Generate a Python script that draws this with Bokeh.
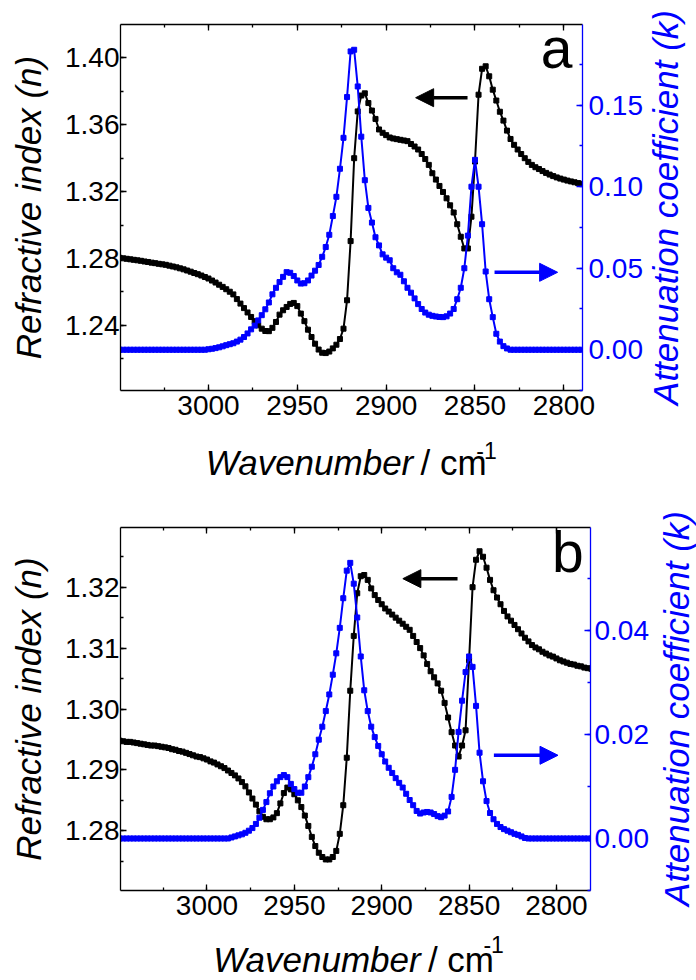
import math
from bokeh.plotting import figure
from bokeh.models import (Range1d, LinearAxis, SingleIntervalTicker, NumeralTickFormatter,
                          CustomJSTickFormatter, Arrow, NormalHead, Label)
from bokeh.layouts import column, row
from bokeh.embed import file_html
from bokeh.resources import INLINE

# ---------------- data ----------------
wavenumber = [
    3050, 3048, 3046, 3044, 3042, 3040, 3038, 3036, 3034, 3032, 3030, 3028, 3026, 3024, 3022, 3020,
    3018, 3016, 3014, 3012, 3010, 3008, 3006, 3004, 3002, 3000, 2998, 2996, 2994, 2992, 2990, 2988,
    2986, 2984, 2982, 2980, 2978, 2976, 2974, 2972, 2970, 2968, 2966, 2964, 2962, 2960, 2958, 2956,
    2954, 2952, 2950, 2948, 2946, 2944, 2942, 2940, 2938, 2936, 2934, 2932, 2930, 2928, 2926, 2924,
    2922, 2920, 2918, 2916, 2914, 2912, 2910, 2908, 2906, 2904, 2902, 2900, 2898, 2896, 2894, 2892,
    2890, 2888, 2886, 2884, 2882, 2880, 2878, 2876, 2874, 2872, 2870, 2868, 2866, 2864, 2862, 2860,
    2858, 2856, 2854, 2852, 2850, 2848, 2846, 2844, 2842, 2840, 2838, 2836, 2834, 2832, 2830, 2828,
    2826, 2824, 2822, 2820, 2818, 2816, 2814, 2812, 2810, 2808, 2806, 2804, 2802, 2800, 2798, 2796,
    2794, 2792, 2790, 2788, 2786, 2784, 2782, 2780]

# panel a: refractive index n
n_a = [
    1.2804, 1.2801, 1.2798, 1.2795, 1.2792, 1.2789, 1.2786, 1.2782, 1.2779, 1.2775, 1.2772, 1.2768,
    1.2765, 1.2762, 1.2757, 1.2752, 1.2747, 1.2741, 1.2735, 1.2728, 1.2721, 1.2713, 1.2706, 1.2698,
    1.2689, 1.2680, 1.2668, 1.2656, 1.2643, 1.2630, 1.2616, 1.2601, 1.2585, 1.2557, 1.2530, 1.2503,
    1.2477, 1.2450, 1.2425, 1.2400, 1.2380, 1.2366, 1.2365, 1.2385, 1.2420, 1.2464, 1.2490, 1.2510,
    1.2528, 1.2534, 1.2515, 1.2470, 1.2425, 1.2374, 1.2330, 1.2290, 1.2255, 1.2236, 1.2234, 1.2243,
    1.2262, 1.2284, 1.2318, 1.2380, 1.2550, 1.2904, 1.3400, 1.3680, 1.3775, 1.3788, 1.3730, 1.3685,
    1.3635, 1.3572, 1.3552, 1.3538, 1.3524, 1.3518, 1.3514, 1.3510, 1.3506, 1.3502, 1.3485, 1.3470,
    1.3452, 1.3425, 1.3395, 1.3360, 1.3310, 1.3272, 1.3234, 1.3198, 1.3160, 1.3118, 1.3075, 1.3005,
    1.2930, 1.2860, 1.2860, 1.3050, 1.3380, 1.3780, 1.3935, 1.3950, 1.3890, 1.3810, 1.3745, 1.3678,
    1.3625, 1.3565, 1.3515, 1.3480, 1.3452, 1.3425, 1.3400, 1.3378, 1.3360, 1.3346, 1.3335, 1.3323,
    1.3312, 1.3302, 1.3293, 1.3285, 1.3278, 1.3272, 1.3266, 1.3261, 1.3256, 1.3251, 1.3247, 1.3243,
    1.3239, 1.3235, 1.3231, 1.3228]

# panel a: attenuation coefficient k
k_a = [
    0.0, 0.0, 0.0, 0.0, 0.0, 0.0, 0.0, 0.0, 0.0, 0.0, 0.0, 0.0, 0.0, 0.0, 0.0, 0.0,
    0.0, 0.0, 0.0, 0.0, 0.0, 0.0, 0.0, 0.0, 0.0, 0.0003, 0.0006, 0.0010, 0.0015, 0.0021, 0.0028, 0.0034,
    0.0040, 0.0050, 0.0062, 0.0078, 0.0100, 0.0125, 0.0148, 0.0180, 0.0212, 0.0248, 0.0290, 0.0340,
    0.0380, 0.0415, 0.0447, 0.0476, 0.0472, 0.0452, 0.0425, 0.0406, 0.0408, 0.0425, 0.0455, 0.0485,
    0.0520, 0.0570, 0.0630, 0.0705, 0.0820, 0.0938, 0.1110, 0.1300, 0.1550, 0.1830, 0.1840, 0.1615,
    0.1307, 0.1040, 0.0870, 0.0780, 0.0690, 0.0640, 0.0585, 0.0565, 0.0549, 0.0500, 0.0475, 0.0460,
    0.0420, 0.0380, 0.0350, 0.0315, 0.0280, 0.0250, 0.0228, 0.0215, 0.0208, 0.0204, 0.0201, 0.0200,
    0.0205, 0.0222, 0.0250, 0.0310, 0.0380, 0.0500, 0.0700, 0.1000, 0.1165, 0.1000, 0.0770, 0.0480,
    0.0310, 0.0200, 0.0098, 0.0050, 0.0022, 0.0008, 0.0, 0.0, 0.0, 0.0, 0.0, 0.0,
    0.0, 0.0, 0.0, 0.0, 0.0, 0.0, 0.0, 0.0, 0.0, 0.0, 0.0, 0.0,
    0.0, 0.0, 0.0, 0.0, 0.0, 0.0, 0.0, 0.0]

# panel b: refractive index n
n_b = [
    1.2948, 1.2947, 1.2946, 1.2946, 1.2945, 1.2944, 1.2943, 1.2942, 1.2941, 1.2940, 1.2940, 1.2939,
    1.2938, 1.2937, 1.2936, 1.2934, 1.2933, 1.2931, 1.2930, 1.2928, 1.2926, 1.2924, 1.2922, 1.2921,
    1.2919, 1.2917, 1.2914, 1.2912, 1.2909, 1.2906, 1.2903, 1.2899, 1.2895, 1.2891, 1.2886, 1.2880,
    1.2873, 1.2863, 1.2853, 1.2843, 1.2832, 1.2823, 1.2819, 1.2819, 1.2822, 1.2829, 1.2845, 1.2862,
    1.2871, 1.2868, 1.2860, 1.2850, 1.2839, 1.2825, 1.2808, 1.2790, 1.2775, 1.2764, 1.2757, 1.2753,
    1.2753, 1.2757, 1.2767, 1.2795, 1.2842, 1.2920, 1.3030, 1.3120, 1.3190, 1.3218, 1.3220, 1.3212,
    1.3198, 1.3187, 1.3179, 1.3172, 1.3165, 1.3160, 1.3155, 1.3150, 1.3145, 1.3140, 1.3135, 1.3130,
    1.3120, 1.3110, 1.3100, 1.3088, 1.3074, 1.3062, 1.3052, 1.3042, 1.3030, 1.3010, 1.2986, 1.2962,
    1.2940, 1.2922, 1.2940, 1.2965, 1.3080, 1.3200, 1.3245, 1.3259, 1.3250, 1.3232, 1.3212, 1.3195,
    1.3183, 1.3172, 1.3161, 1.3152, 1.3145, 1.3138, 1.3131, 1.3124, 1.3117, 1.3111, 1.3105, 1.3101,
    1.3098, 1.3094, 1.3091, 1.3088, 1.3086, 1.3083, 1.3080, 1.3078, 1.3076, 1.3074, 1.3073, 1.3071,
    1.3070, 1.3068, 1.3067, 1.3066]

# panel b: attenuation coefficient k
k_b = [
    0.0, 0.0, 0.0, 0.0, 0.0, 0.0, 0.0, 0.0, 0.0, 0.0, 0.0, 0.0, 0.0, 0.0, 0.0, 0.0,
    0.0, 0.0, 0.0, 0.0, 0.0, 0.0, 0.0, 0.0, 0.0, 0.0, 0.0, 0.0, 0.0, 0.0, 0.0, 0.0,
    0.0002, 0.0004, 0.0006, 0.0008, 0.0011, 0.0015, 0.0020, 0.0028, 0.0040, 0.0055, 0.0070, 0.0087,
    0.0100, 0.0110, 0.0118, 0.0122, 0.0118, 0.0105, 0.0095, 0.0088, 0.0088, 0.0100, 0.0118, 0.0138,
    0.0162, 0.0190, 0.0215, 0.0245, 0.0277, 0.0315, 0.0356, 0.0405, 0.0462, 0.0515, 0.0530, 0.0490,
    0.0425, 0.0350, 0.0285, 0.0245, 0.0215, 0.0195, 0.0178, 0.0162, 0.0148, 0.0136, 0.0126, 0.0116,
    0.0107, 0.0098, 0.0086, 0.0074, 0.0064, 0.0053, 0.0048, 0.0050, 0.0051, 0.0050, 0.0047, 0.0043,
    0.0041, 0.0044, 0.0052, 0.0080, 0.0132, 0.0205, 0.0265, 0.0320, 0.0350, 0.0330, 0.0255, 0.0165,
    0.0110, 0.0072, 0.0049, 0.0037, 0.0028, 0.0022, 0.0018, 0.0015, 0.0012, 0.0009, 0.0007, 0.0004,
    0.0001, 0.0, 0.0, 0.0, 0.0, 0.0, 0.0, 0.0, 0.0, 0.0, 0.0, 0.0,
    0.0, 0.0, 0.0, 0.0, 0.0, 0.0, 0.0, 0.0]

x_tick_interval = 50
n_label = "Refractive index (n)"
k_label = "Attenuation coefficient (k)"
x_label_main = "Wavenumber"
x_label_unit = "/ cm"
x_label_sup = "-1"

FONT = "Liberation Sans"
BLUE = "#0000FF"
BLACK = "#000000"


def style_axis(ax, color, interval, fmt, show_labels=True, standoff=4):
    ax.ticker = SingleIntervalTicker(interval=interval, num_minor_ticks=2)
    ax.axis_line_color = color
    ax.axis_line_width = 1.3
    ax.major_tick_line_color = color
    ax.minor_tick_line_color = color
    ax.major_tick_line_width = 1.3
    ax.minor_tick_line_width = 1.3
    ax.major_tick_in = 6
    ax.major_tick_out = 0
    ax.minor_tick_in = 3
    ax.minor_tick_out = 0
    ax.major_label_text_font = FONT
    ax.major_label_text_color = color
    if show_labels:
        ax.formatter = NumeralTickFormatter(format=fmt)
        ax.major_label_text_font_size = "28px"
        ax.major_label_standoff = standoff
    else:
        ax.formatter = CustomJSTickFormatter(code="return ''")
        ax.major_label_text_font_size = "0px"
        ax.major_label_standoff = 0
    ax.axis_label_text_font = FONT
    ax.axis_label_text_font_style = "italic"
    ax.axis_label_text_font_size = "35px"
    ax.axis_label_text_color = color


def blank(w, h):
    f = figure(width=w, height=h, x_range=Range1d(0, w), y_range=Range1d(0, h),
               min_border=0, x_axis_location=None, y_axis_location=None,
               output_backend="svg", toolbar_location=None)
    f.outline_line_color = None
    f.grid.visible = False
    f.background_fill_color = "white"
    f.border_fill_color = "white"
    return f


def make_main(xr, nr, kr, n_vals, k_vals, n_int, k_int, frame_w, frame_h, borders,
              letter, letter_pos, black_arrow, blue_arrow, k_standoff):
    p = figure(frame_width=frame_w, frame_height=frame_h,
               x_range=Range1d(*xr), y_range=Range1d(*nr),
               output_backend="svg", toolbar_location=None,
               min_border_left=borders[0], min_border_right=borders[1],
               min_border_top=borders[2], min_border_bottom=borders[3])
    p.extra_y_ranges = {"k": Range1d(*kr)}
    p.outline_line_color = None
    p.xgrid.grid_line_color = None
    p.ygrid.grid_line_color = None
    p.background_fill_color = "white"
    p.border_fill_color = "white"

    style_axis(p.xaxis[0], BLACK, x_tick_interval, "0", standoff=5)
    style_axis(p.yaxis[0], BLACK, n_int, "0.00", standoff=1)
    p.yaxis[0].axis_label = n_label
    p.yaxis[0].axis_label_standoff = 14

    top = LinearAxis()
    style_axis(top, BLACK, x_tick_interval, "0", show_labels=False)
    p.add_layout(top, "above")

    right = LinearAxis(y_range_name="k")
    style_axis(right, BLUE, k_int, "0.00", standoff=k_standoff)
    p.add_layout(right, "right")

    p.line(wavenumber, n_vals, line_color=BLACK, line_width=2)
    p.scatter(wavenumber, n_vals, marker="square", size=5, color=BLACK)
    p.line(wavenumber, k_vals, line_color=BLUE, line_width=2, y_range_name="k")
    p.scatter(wavenumber, k_vals, marker="square", size=5, color=BLUE, y_range_name="k")

    p.add_layout(Arrow(end=NormalHead(size=18, fill_color=BLACK, line_color=BLACK),
                       x_start=black_arrow[0], x_end=black_arrow[1],
                       y_start=black_arrow[2], y_end=black_arrow[2],
                       line_color=BLACK, line_width=3.5))
    p.add_layout(Arrow(end=NormalHead(size=18, fill_color=BLUE, line_color=BLUE),
                       x_start=blue_arrow[0], x_end=blue_arrow[1],
                       y_start=blue_arrow[2], y_end=blue_arrow[2],
                       line_color=BLUE, line_width=3.5, y_range_name="k"))

    p.add_layout(Label(x=letter_pos[0], y=letter_pos[1], text=letter, text_font=FONT,
                       text_font_size="57px", text_align="center",
                       text_baseline="alphabetic", text_color=BLACK))
    return p


def make_xlabel(w, h, anchor_x, base_y, unit_x, sup_x, sup_y):
    f = blank(w, h)
    f.add_layout(Label(x=anchor_x, y=base_y, text=x_label_main, text_font=FONT,
                       text_font_style="italic", text_font_size="35px",
                       text_align="right", text_baseline="alphabetic", text_color=BLACK))
    f.add_layout(Label(x=unit_x, y=base_y, text=x_label_unit, text_font=FONT,
                       text_font_size="35px", text_align="left",
                       text_baseline="alphabetic", text_color=BLACK))
    f.add_layout(Label(x=sup_x, y=sup_y, text=x_label_sup, text_font=FONT,
                       text_font_size="23px", text_align="left",
                       text_baseline="alphabetic", text_color=BLACK))
    return f


def make_klabel(w, h, cx, cy):
    f = blank(w, h)
    f.add_layout(Label(x=cx, y=cy, text=k_label, text_font=FONT, text_font_style="italic",
                       text_font_size="35px", text_align="center", text_baseline="middle",
                       angle=math.pi / 2, text_color=BLUE))
    return f


# ---------- panel a (page rows 0-490) ----------
main_a = make_main(xr=(3049.5, 2789.5), nr=(1.201, 1.42), kr=(-0.025, 0.1995),
                   n_vals=n_a, k_vals=k_a, n_int=0.04, k_int=0.05,
                   frame_w=462, frame_h=366, borders=(120, 62, 24, 42),
                   letter="a", letter_pos=(2804.1, 1.4062),
                   black_arrow=(2854.2, 2883.4, 1.3762),
                   blue_arrow=(2839.0, 2803.5, 0.0475), k_standoff=6)
xlab_a = make_xlabel(644, 58, 409, 28, 419, 497, 40)
klab_a = make_klabel(52, 490, 20, 283)
row_a = row(column(main_a, xlab_a, spacing=0), klab_a, spacing=0)

# ---------- panel b (page rows 490-980) ----------
main_b = make_main(xr=(3049.5, 2780.5), nr=(1.2702, 1.3298), kr=(-0.01, 0.0598),
                   n_vals=n_b, k_vals=k_b, n_int=0.01, k_int=0.02,
                   frame_w=470, frame_h=363, borders=(120, 60, 37, 40),
                   letter="b", letter_pos=(2793.4, 1.3257),
                   black_arrow=(2856.6, 2887.9, 1.3214),
                   blue_arrow=(2835.8, 2799.1, 0.016), k_standoff=4)
xlab_b = make_xlabel(650, 50, 416, 21, 426, 503, 36)
klab_b = make_klabel(46, 490, 25, 272)
row_b = row(column(main_b, xlab_b, spacing=0), klab_b, spacing=0)

layout = column(row_a, row_b, spacing=0)
open("out.html", "w").write(file_html(layout, INLINE))
